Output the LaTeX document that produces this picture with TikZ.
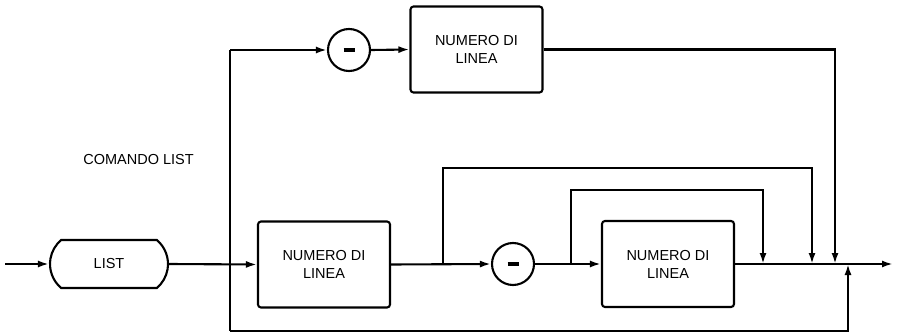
\documentclass[tikz,border=0pt]{standalone}
\usepackage{fontspec}
\setmainfont{Liberation Sans}
\usetikzlibrary{arrows.meta,shapes.misc}
\begin{document}
\begin{tikzpicture}[x=1pt,y=-1pt,
  line width=2.1pt,
  every node/.style={font=\fontsize{14.5}{18}\selectfont},
  arr/.style={-{Latex[length=11pt,width=7pt]}},
  numbox/.style={draw,rounded corners=3pt,minimum width=132pt,minimum height=86pt,align=center,inner sep=0pt},
  circ/.style={draw,circle,minimum size=42pt,inner sep=0pt},
  termbox/.style={draw,rounded rectangle,rounded rectangle arc length=100,minimum width=118pt,minimum height=48pt,inner sep=0pt}
]
\useasboundingbox (0,0) rectangle (899,334);

% nodes
\node[termbox] (list) at (109,264) {LIST};
\node[numbox] (b1) at (324,264.5) {NUMERO DI\\LINEA};
\node[circ] (c1) at (349,50) {\rule{11pt}{3.2pt}};
\node[numbox] (b0) at (476.5,49.5) {NUMERO DI\\LINEA};
\node[circ] (c2) at (513,264) {\rule{11pt}{3.2pt}};
\node[numbox] (b3) at (668,264) {NUMERO DI\\LINEA};
\node[anchor=west] (title) at (79,160) {COMANDO LIST};

% coordinates
\coordinate (start) at (5,264);
\coordinate (vtop) at (230,50);
\coordinate (vbot) at (230,331);
\coordinate (j1) at (443,264);
\coordinate (j2) at (571,264);
\coordinate (d1) at (763,264);
\coordinate (d2) at (812,264);
\coordinate (d3) at (835,264);
\coordinate (u1) at (848,264);
\coordinate (endp) at (893,264);

% main line
\draw[arr] (start) -- (list.west);
\draw[arr] (list.east) -- (b1.west);
\draw[arr] (b1.east) -- (c2.west);
\draw[arr] (c2.east) -- (b3.west);
\draw[arr] (b3.east) -- (endp);

% left vertical with top branch and bottom bypass
\draw (vtop) -- (vbot);
\draw[arr] (vtop) -- (c1.west);
\draw[arr] (c1.east) -- (b0.west);
\draw[arr] (b0.east) -- (d3 |- b0.east) -- (d3);
\draw[arr] (vbot) -- (u1 |- vbot) -- (u1);

% loops over the main line
\draw[arr] (j1) -- (443,168) -- (812,168) -- (d2);
\draw[arr] (j2) -- (571,190) -- (763,190) -- (d1);
\end{tikzpicture}
\end{document}
